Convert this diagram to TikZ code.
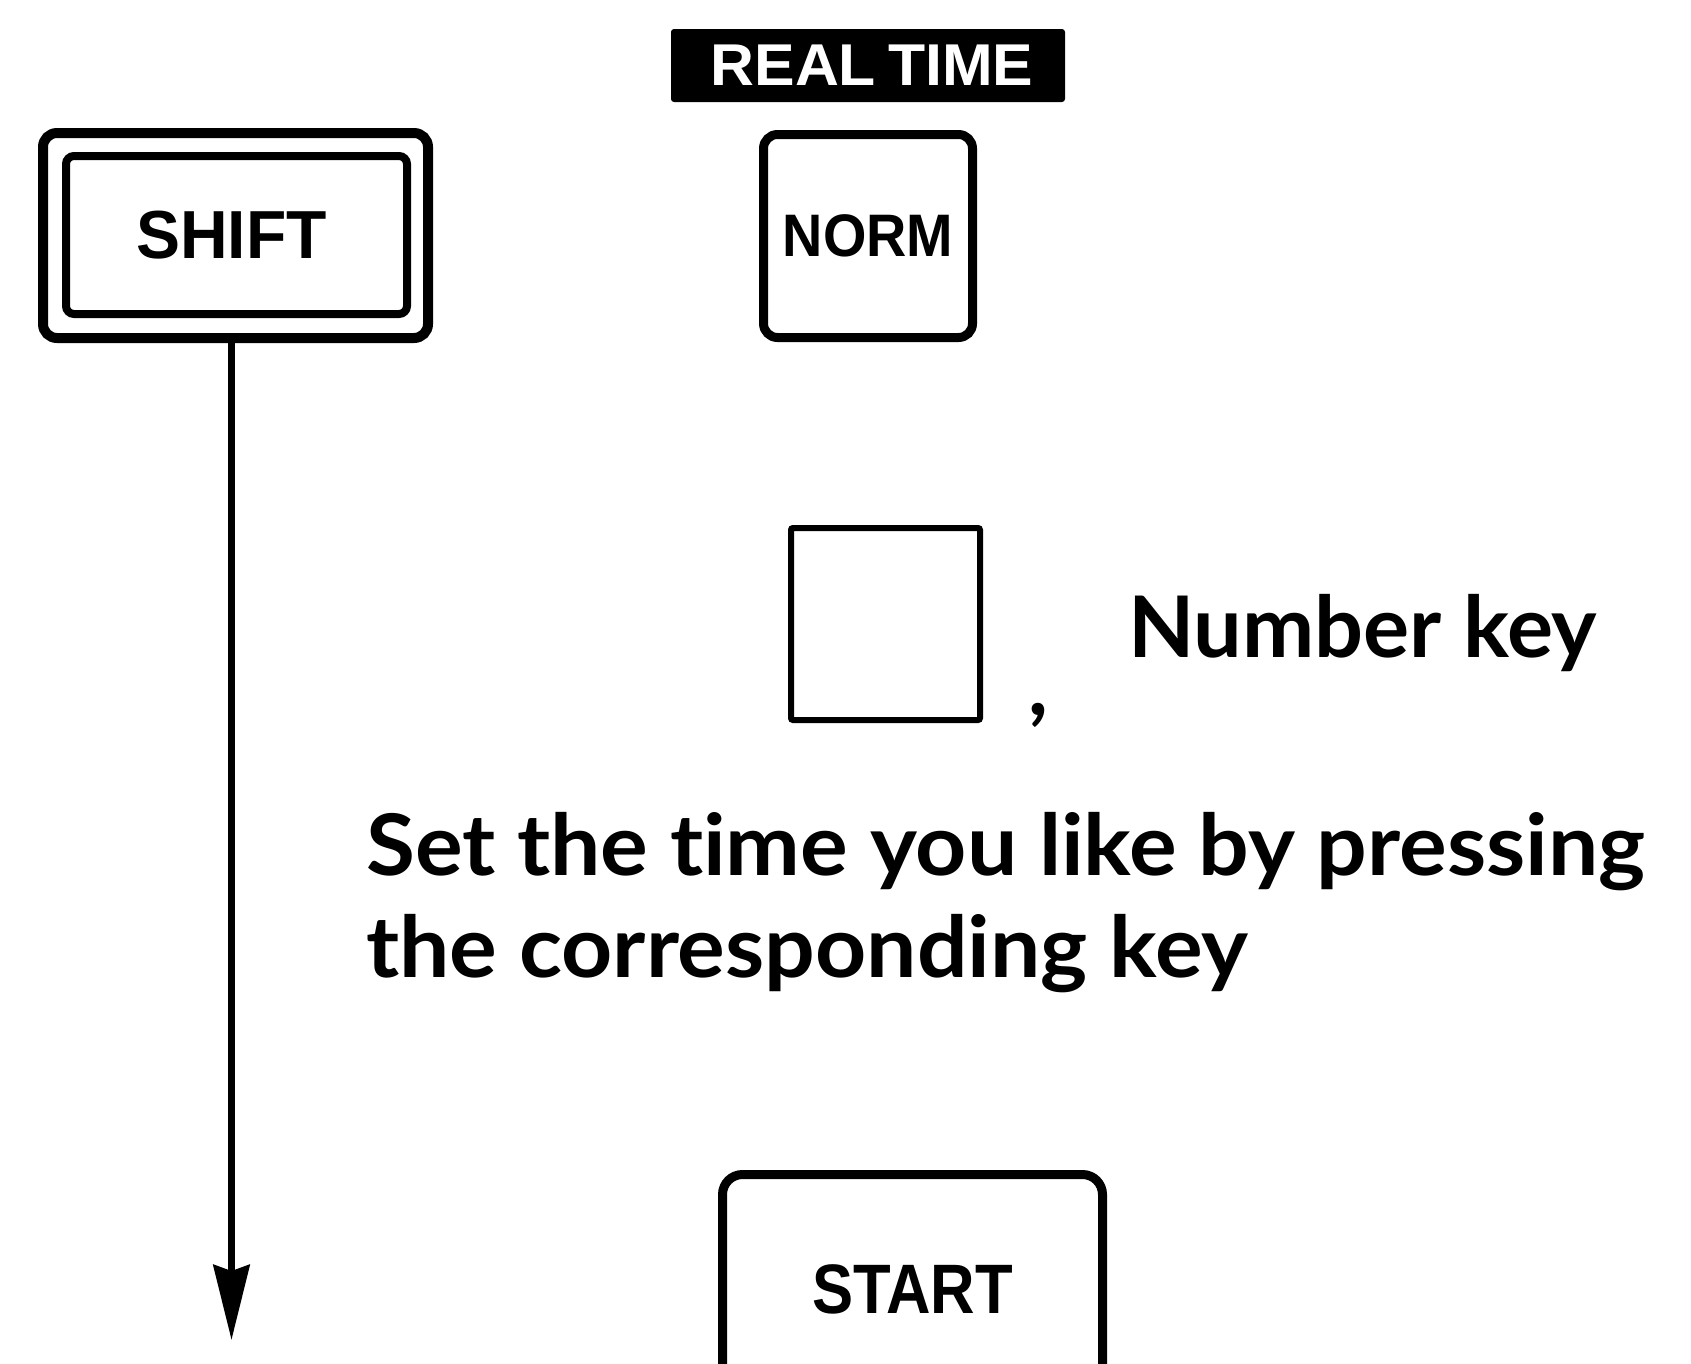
\documentclass[tikz,border=0pt]{standalone}
\usepackage{fontspec}
\newfontfamily\keyfont{Liberation Sans}
\newfontfamily\bodyfont{Lato}[Ligatures=NoCommon]
\usetikzlibrary{arrows.meta}
\tikzset{
  keybox/.style={draw=black, rectangle, inner sep=0pt, align=center,
    font=\keyfont\bfseries\fontsize{68}{80}\selectfont},
  bodytext/.style={inner sep=0pt, anchor=base west,
    font=\bodyfont\bfseries\fontsize{85}{101}\selectfont},
}
\begin{document}
\begin{tikzpicture}[x=1pt,y=-1pt]
\useasboundingbox (0,0) rectangle (1691,1363);
\clip (0,0) rectangle (1691,1363);
\fill[white] (0,0) rectangle (1691,1363);
% SHIFT key with double border
\node[keybox, line width=10pt, rounded corners=14pt, minimum width=385pt, minimum height=205pt] (shiftout) at (235.5,235.5) {};
\node[keybox, line width=8pt, rounded corners=8pt, minimum width=341pt, minimum height=158pt] (shiftin) at (236.5,235) {\hspace*{-10pt}\raisebox{-3pt}{\scalebox{0.97}[1]{SHIFT}}};
% REAL TIME label
\node[rectangle, fill=black, rounded corners=3pt, minimum width=394pt, minimum height=73pt, inner sep=0pt, text=white,
  font=\keyfont\bfseries\fontsize{59}{70}\selectfont] (realtime) at (868,65.5) {\hspace*{8pt}\scalebox{1.03}[1]{REAL\hspace{-0.08em} TIME}};
% NORM key
\node[keybox, line width=9pt, rounded corners=14pt, minimum width=209pt, minimum height=203pt,
  font=\keyfont\bfseries\fontsize{60}{70}\selectfont] (norm) at (868,236) {\raisebox{-9pt}{\scalebox{0.93}[1]{NORM}}};
% Number key box
\node[keybox, line width=6pt, rounded corners=2pt, minimum width=189pt, minimum height=192pt] (numkey) at (885.5,624) {};
\node[bodytext] (comma) at (1028,715) {,};
\node[bodytext] (numlabel) at (1128,657) {\scalebox{1.015}[1]{Number key}};
% Instruction text
\node[bodytext] (line1) at (366,875) {\scalebox{1.05}[1]{Set the time you like by pressing}};
\node[bodytext] (line2) at (366,977) {\scalebox{1.05}[1]{the corresponding key}};
% START key
\node[keybox, line width=9pt, rounded corners=20pt, minimum width=380pt, minimum height=300pt] (start) at (912.5,1324.5) {};
\node[inner sep=0pt, anchor=base, font=\keyfont\bfseries\fontsize{70}{80}\selectfont] (startlabel) at (912.5,1313) {\scalebox{0.88}[1]{START}};
% Arrow from SHIFT downward
\coordinate (arrowstart) at (231.5,0 |- shiftout.south);
\coordinate (arrowend) at (231.5,1340);
\draw[line width=7pt, -{Stealth[length=75pt, width=36pt, inset=6pt]}] (arrowstart) -- (arrowend);
\end{tikzpicture}
\end{document}
